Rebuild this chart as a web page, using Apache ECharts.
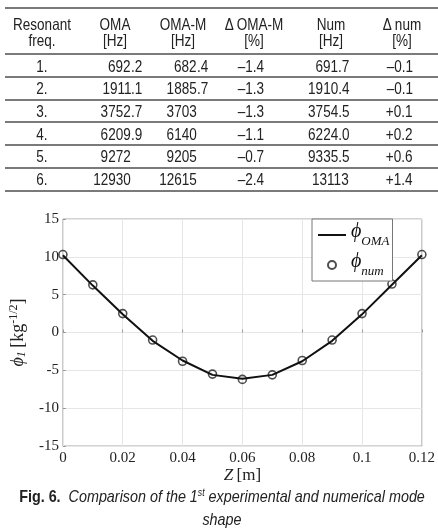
<!DOCTYPE html>
<html>
<head>
<meta charset="utf-8">
<script src="https://cdn.jsdelivr.net/npm/echarts@6/dist/echarts.min.js"></script>
<style>
  html, body { margin: 0; padding: 0; background: #fff; }
  #page { position: relative; width: 438px; height: 532px; overflow: hidden; }
  #chart { position: absolute; left: 0; top: 0; width: 438px; height: 532px; }
  #table { position: absolute; left: 0; top: 0; width: 438px; height: 200px;
    font-family: "Liberation Sans", Arial, sans-serif; font-size: 16.5px; color: #222; }
  #table .t { position: absolute; line-height: 20px; height: 20px; white-space: nowrap; }
  #table .rule { position: absolute; left: 5px; right: 0; height: 2px; background: #7a7a7a; }
  #cap { position: absolute; left: -100px; top: 485px; width: 644px; text-align: center; white-space: nowrap;
    transform: scaleX(0.87); transform-origin: 322px 0;
    font-family: "Liberation Sans", Arial, sans-serif; font-size: 16.5px; line-height: 23px; color: #222; }
  #cap b { font-weight: bold; }
  #cap sup { font-size: 10px; vertical-align: 6px; line-height: 0; }
</style>
</head>
<body>
<div id="page">
  <div id="chart"></div>
  <div id="table"></div>
  <div id="cap"><b>Fig. 6.</b>&nbsp; <i>Comparison of the 1<sup>st</sup> experimental and numerical mode</i><br><i>shape</i></div>
</div>
<script>
// table data
const headTop = ['Resonant', 'OMA', 'OMA-M', 'Δ OMA-M', 'Num', 'Δ num'];
const headBottom = ['freq.', '[Hz]', '[Hz]', '[%]', '[Hz]', '[%]'];
const modeNo = ['1.', '2.', '3.', '4.', '5.', '6.'];
const omaHz = ['692.2', '1911.1', '3752.7', '6209.9', '9272', '12930'];
const omaMHz = ['682.4', '1885.7', '3703', '6140', '9205', '12615'];
const dOmaM = ['–1.4', '–1.3', '–1.3', '–1.1', '–0.7', '–2.4'];
const numHz = ['691.7', '1910.4', '3754.5', '6224.0', '9335.5', '13113'];
const dNum = ['–0.1', '–0.1', '+0.1', '+0.2', '+0.6', '+1.4'];

// chart data
const zPos = [0, 0.01, 0.02, 0.03, 0.04, 0.05, 0.06, 0.07, 0.08, 0.09, 0.1, 0.11, 0.12];
const phiOma = [10.2, 6.2, 2.4, -1.1, -3.7, -5.6, -6.1, -5.6, -3.8, -1.1, 2.4, 6.3, 10.2];
const phiNum = [10.3, 6.3, 2.5, -1.0, -3.8, -5.5, -6.2, -5.6, -3.7, -1.0, 2.5, 6.4, 10.3];

// ---- table (html), arial squeezed to look like arial narrow ----
const NARROW = 0.82;
const tbl = document.getElementById('table');
function put(txt, y, x, align) {
  const d = document.createElement('div');
  d.className = 't';
  d.textContent = txt;
  d.style.top = (y - 10) + 'px';
  if (align === 'center') {
    d.style.left = (x - 100) + 'px'; d.style.width = '200px'; d.style.textAlign = 'center';
    d.style.transformOrigin = 'center';
  } else if (align === 'right') {
    d.style.right = (438 - x) + 'px'; d.style.textAlign = 'right';
    d.style.transformOrigin = 'right';
  } else {
    d.style.left = x + 'px';
    d.style.transformOrigin = 'left';
  }
  d.style.transform = 'scaleX(' + NARROW + ')';
  tbl.appendChild(d);
}
function rule(y) {
  const r = document.createElement('div');
  r.className = 'rule';
  r.style.top = (y - 1) + 'px';
  tbl.appendChild(r);
}
// decimal aligned cell
function putDec(txt, y, x) {
  const k = txt.indexOf('.');
  if (k < 0) { put(txt, y, x, 'right'); return; }
  put(txt.slice(0, k), y, x, 'right');
  put(txt.slice(k), y, x, 'left');
}

const headX = [42, 115, 183, 254, 331, 402];
rule(8);
headTop.forEach((h, i) => put(h, 24, headX[i], 'center'));
headBottom.forEach((h, i) => put(h, 40, headX[i], 'center'));
rule(54);
modeNo.forEach((m, i) => {
  const y = 65.5 + 22.7 * i;
  put(m, y, 42, 'center');
  putDec(omaHz[i], y, 131);
  putDec(omaMHz[i], y, 197);
  put(dOmaM[i], y, 264, 'right');
  put(numHz[i], y, 349, 'right');
  put(dNum[i], y, 413, 'right');
  rule(77 + 22.7 * i);
});

// ---- chart ----
const chart = echarts.init(document.getElementById('chart'));
const serif = 'Liberation Serif';

chart.setOption({
  animation: false,
  grid: { left: 58, right: 13, top: 219, bottom: 86, show: true, borderColor: '#a8a8a8', borderWidth: 1 },
  legend: {
    orient: 'vertical',
    left: 312,
    top: 219,
    padding: [3, 3, 3, 5],
    itemGap: 4,
    itemWidth: 28,
    itemHeight: 8,
    backgroundColor: '#fff',
    borderColor: '#777',
    borderWidth: 1,
    data: [
      { name: 'OMA', itemStyle: { color: 'rgba(0,0,0,0)', borderColor: 'rgba(0,0,0,0)' } },
      { name: 'num' }
    ],
    formatter: name => '{p|ϕ}{s|' + name + '}',
    textStyle: {
      rich: {
        p: { fontFamily: serif, fontStyle: 'italic', fontSize: 20, color: '#111', lineHeight: 26, verticalAlign: 'top' },
        s: { fontFamily: serif, fontStyle: 'italic', fontSize: 13, color: '#111', lineHeight: 15, verticalAlign: 'bottom' }
      }
    }
  },
  xAxis: {
    type: 'value',
    min: 0,
    max: 0.12,
    interval: 0.02,
    name: '{i|Z} {t|[m]}',
    nameLocation: 'middle',
    nameGap: 17,
    nameTextStyle: {
      rich: {
        i: { fontFamily: serif, fontStyle: 'italic', fontSize: 17, color: '#222' },
        t: { fontFamily: serif, fontSize: 17, color: '#222' }
      }
    },
    axisLine: { show: false },
    axisTick: { show: true, inside: true, length: 3, lineStyle: { color: '#999' } },
    axisLabel: { fontFamily: serif, fontSize: 15, color: '#222', margin: 5 },
    splitLine: { show: true, lineStyle: { color: '#e6e6e6', width: 1 } }
  },
  yAxis: {
    type: 'value',
    min: -15,
    max: 15,
    interval: 5,
    name: '{p|ϕ}{s|1} {t|[kg}{u|-1/2}{t|]}',
    nameLocation: 'middle',
    nameRotate: 90,
    nameGap: 28,
    nameTextStyle: {
      rich: {
        p: { fontFamily: serif, fontStyle: 'italic', fontSize: 18, color: '#222', lineHeight: 20 },
        s: { fontFamily: serif, fontStyle: 'italic', fontSize: 12, color: '#222', lineHeight: 12, verticalAlign: 'bottom' },
        t: { fontFamily: serif, fontSize: 18, color: '#222', lineHeight: 20 },
        u: { fontFamily: serif, fontSize: 12, color: '#222', lineHeight: 12, verticalAlign: 'top' }
      }
    },
    axisLine: { show: false },
    axisTick: { show: true, inside: true, length: 3, lineStyle: { color: '#999' } },
    axisLabel: { fontFamily: serif, fontSize: 15, color: '#222', margin: 4 },
    splitLine: { show: true, lineStyle: { color: '#e6e6e6', width: 1 } }
  },
  series: [
    {
      name: 'OMA',
      type: 'line',
      symbol: 'none',
      data: zPos.map((z, i) => [z, phiOma[i]]),
      itemStyle: { color: '#111' },
      lineStyle: { color: '#111', width: 2 }
    },
    {
      name: 'num',
      type: 'scatter',
      symbol: 'circle',
      symbolSize: 8,
      data: zPos.map((z, i) => [z, phiNum[i]]),
      itemStyle: { color: 'rgba(0,0,0,0)', borderColor: '#222', borderWidth: 1.6 }
    }
  ]
});
</script>
</body>
</html>
